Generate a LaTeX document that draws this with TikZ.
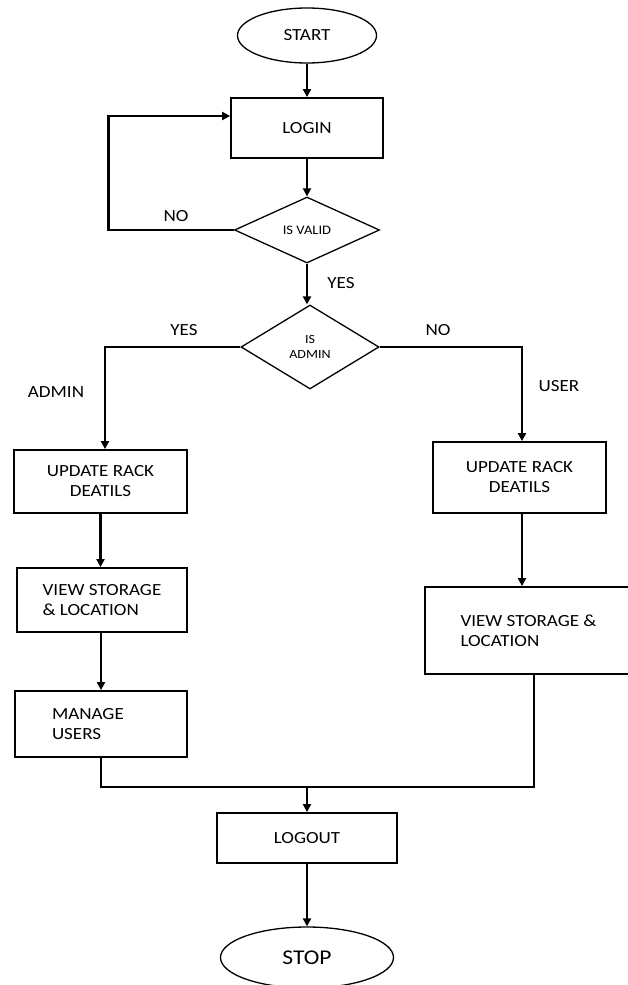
\documentclass[tikz,border=0pt]{standalone}
\usepackage{fontspec}
\setmainfont{Carlito}[FakeStretch=1.12]
\usetikzlibrary{shapes.geometric,arrows.meta}

\begin{document}
\begin{tikzpicture}[x=10pt,y=10pt]
\tikzstyle{every node}+=[inner sep=0pt]
\tikzstyle{box}=[draw, line width=1.8pt, font=\fontsize{17}{20}\selectfont, align=center]
\tikzstyle{term}=[draw, ellipse, line width=1.3pt]
\tikzstyle{test}=[draw, diamond, line width=1.3pt, align=center]
\tikzstyle{flow}=[line width=2.2pt, -{Triangle[length=8pt,width=8pt]}]
\tikzstyle{lbl}=[font=\fontsize{17}{20}\selectfont]
\useasboundingbox (0,0) rectangle (62.8,-98.5);
% main column
\node [term, minimum width=139pt, minimum height=55pt, font=\fontsize{17}{20}\selectfont] (start) at (30.7,-3.55) {START};
\node [box, minimum width=152pt, minimum height=60pt] (login) at (30.7,-12.8) {LOGIN};
\node [test, minimum width=145pt, minimum height=66pt, font=\fontsize{13}{15}\selectfont] (isvalid) at (30.7,-23.0) {IS VALID};
\node [test, minimum width=138pt, minimum height=84pt, font=\fontsize{12.5}{15}\selectfont] (isadmin) at (31.0,-34.7) {IS\\ADMIN};
% admin side
\node [box, minimum width=173pt, minimum height=63pt] (updadmin) at (10.05,-48.15) {UPDATE RACK\\DEATILS};
\node [box, minimum width=170pt, minimum height=64pt, align=left] (viewadmin) at (10.2,-60.0) {VIEW STORAGE\\\& LOCATION};
\node [box, text width=98pt, inner xsep=37pt, minimum height=66pt, align=left] (manage) at (10.1,-72.4) {MANAGE\\USERS};
% user side
\node [box, minimum width=173pt, minimum height=71pt] (upduser) at (51.95,-47.75) {UPDATE RACK\\DEATILS};
\node [box, minimum width=207pt, minimum height=87pt, align=left] (viewuser) at (52.85,-63.05) {VIEW STORAGE \&\\LOCATION};
% end
\node [box, minimum width=180pt, minimum height=50pt] (logout) at (30.7,-83.8) {LOGOUT};
\node [term, minimum width=173pt, minimum height=61pt, font=\fontsize{21}{25}\selectfont] (stop) at (30.7,-95.75) {STOP};
\coordinate (loopc) at (10.85,-11.6);
\coordinate (adminx) at (10.5,-34.7);
\coordinate (userx) at (52.2,-34.7);
\coordinate (joinr) at (53.4,-78.7);
\coordinate (joinm) at (30.7,-78.7);
\draw [flow] (start) -- (login);
\draw [flow] (login) -- (isvalid);
\draw [flow] (isvalid.west) -| (loopc) -- (loopc -| login.west);
\draw [flow] (isvalid.south) -- (isvalid.south |- isadmin.north);
\draw [flow] (isadmin.west) -- (adminx) -- (adminx |- updadmin.north);
\draw [flow] (isadmin.east) -- (userx) -- (userx |- upduser.north);
\draw [flow] (updadmin.south) -- (updadmin.south |- viewadmin.north);
\draw [flow] (manage.north |- viewadmin.south) -- (manage.north);
\draw [flow] (userx |- upduser.south) -- (userx |- viewuser.north);
\draw [line width=2.2pt] (manage.south) |- (joinr) -- (joinr |- viewuser.south);
\draw [flow] (joinm) -- (logout);
\draw [flow] (logout) -- (stop);
% labels
\node [lbl] (novalid) at (17.6,-21.6) {NO};
\node [lbl] (yesvalid) at (34.1,-28.3) {YES};
\node [lbl] (yesadmin) at (18.4,-33.0) {YES};
\node [lbl] (noadmin) at (43.8,-33.0) {NO};
\node [lbl] (adminlbl) at (5.6,-39.2) {ADMIN};
\node [lbl] (userlbl) at (55.9,-38.6) {USER};
\end{tikzpicture}
\end{document}
